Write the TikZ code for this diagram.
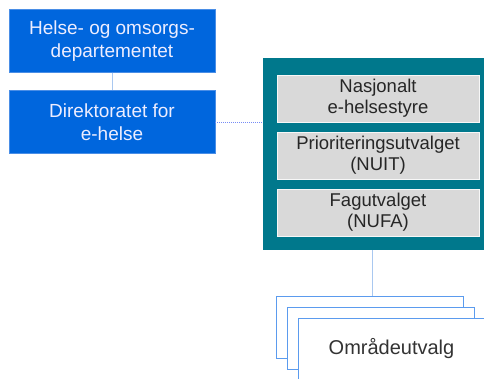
\documentclass[tikz,border=0pt]{standalone}
\usepackage{fontspec}
\setmainfont{Liberation Sans}
\usepackage{tikz}
\usetikzlibrary{calc}
\definecolor{dirblue}{HTML}{0066DD}
\definecolor{diredge}{HTML}{4A8EE6}
\definecolor{tealbg}{HTML}{00788C}
\definecolor{graybox}{HTML}{D9D9D9}
\definecolor{linkblue}{HTML}{A9C8F0}
\definecolor{stackedge}{HTML}{5B9BEE}
\tikzset{
  orgbox/.style   = {draw=diredge, fill=dirblue, text=white!93!blue, align=center,
                     minimum width=206pt, minimum height=63pt, inner sep=0pt,
                     font=\fontsize{19}{22.5}\selectfont},
  styrebox/.style = {draw=white!80!graybox, fill=graybox, text=black!85, align=center,
                     minimum width=202pt, minimum height=47pt, inner sep=0pt,
                     font=\fontsize{18.5}{21}\selectfont},
  utvalgbox/.style = {draw=stackedge, thick, fill=white, text=black!80, align=center,
                     minimum width=187pt, minimum height=62pt, inner sep=0pt,
                     font=\fontsize{20}{24}\selectfont},
  link/.style     = {linkblue, line width=1pt}
}

\begin{document}
\begin{tikzpicture}[x=1pt,y=-1pt]
  \useasboundingbox (0,0) rectangle (484,378);
  \clip (0,0) rectangle (484,378);
  % departement and direktorat
  \node[orgbox] (hod) at (112,41) {Helse- og omsorgs-\\departementet};
  \node[orgbox] (dir) at (112,122) {Direktoratet for\\e-helse};
  % styringsmodell
  \node[fill=tealbg, minimum width=230pt, minimum height=192pt, inner sep=0pt]
        (ramme) at (378,154) {};
  \node[styrebox] (nehs) at (378,98.5) {Nasjonalt\\e-helsestyre};
  \node[styrebox] (nuit) at (378,155.5) {Prioriteringsutvalget\\(NUIT)};
  \node[styrebox] (nufa) at (378,212.5) {Fagutvalget\\(NUFA)};
  % omradeutvalg, stacked
  \node[utvalgbox] (omr1) at (369.5,327) {};
  \node[utvalgbox] (omr2) at (380.5,338) {};
  \node[utvalgbox] (omr3) at (391.5,349) {Områdeutvalg};
  % links
  \draw[link] (hod.south) -- (dir.north);
  \draw[link, linkblue!70!blue, densely dotted] (dir.east) -- (dir.east -| ramme.west);
  \draw[link] (ramme.south -| 372,0) -- (omr1.north -| 372,0);
\end{tikzpicture}
\end{document}
